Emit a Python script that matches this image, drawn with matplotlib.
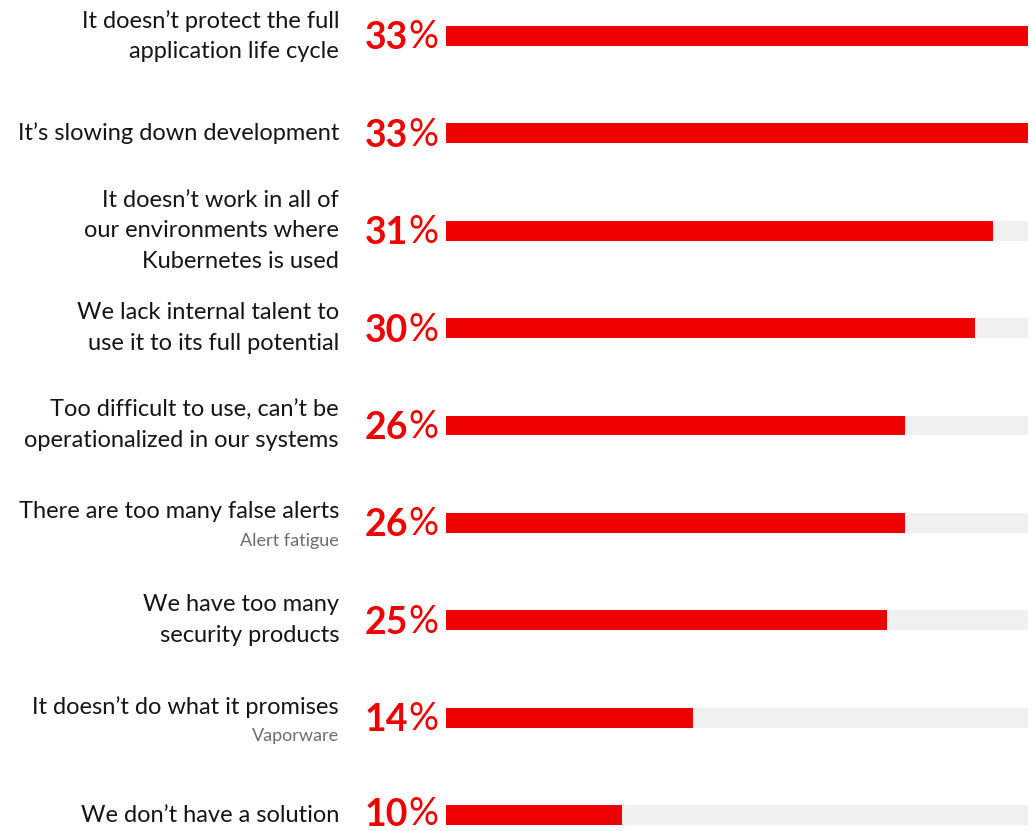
import matplotlib.pyplot as plt

labels = [
    "It doesn’t protect the full\napplication life cycle",
    "It’s slowing down development",
    "It doesn’t work in all of\nour environments where\nKubernetes is used",
    "We lack internal talent to\nuse it to its full potential",
    "Too difficult to use, can’t be\noperationalized in our systems",
    "There are too many false alerts",
    "We have too many\nsecurity products",
    "It doesn’t do what it promises",
    "We don’t have a solution",
]
notes = ["", "", "", "", "", "Alert fatigue", "", "Vaporware", ""]
values = [33, 33, 31, 30, 26, 26, 25, 14, 10]

red = "#ee0000"
plt.rcParams['font.family'] = ['Lato', 'DejaVu Sans']

fig = plt.figure(figsize=(10.34, 8.31), dpi=100)
# bars span x 446..1028 px, full height of the figure
ax = fig.add_axes([446 / 1034, 0, 582 / 1034, 1])
ax.set_xlim(0, 33)
ax.set_ylim(8 + 16 / 97.4, -36 / 97.4)
ax.axis('off')

h = 20 / 97.4
rows = range(len(values))
ax.barh(rows, [33] * len(values), height=h, color="#f0f0f0")
ax.barh(rows, values, height=h, color=red)

lab_x = (339 - 446) / 582
pct_x = (365 - 446) / 582
dy = 11 / 97.4
for i, (lab, note, v) in enumerate(zip(labels, notes, values)):
    if note:
        ax.text(lab_x, i - dy, lab, transform=ax.get_yaxis_transform(),
                ha='right', va='center', fontsize=17, color="#151515")
        ax.text(lab_x, i + 18 / 97.4, note, transform=ax.get_yaxis_transform(),
                ha='right', va='center', fontsize=13, color="#6a6e73")
    else:
        ax.text(lab_x, i, lab, transform=ax.get_yaxis_transform(),
                ha='right', va='center', fontsize=17, color="#151515",
                linespacing=1.57)
    # last row sits at the bottom edge, keep its number inside the figure
    off = 0.025 if i < len(values) - 1 else 0.0
    t = ax.text(pct_x, i + off, str(v), transform=ax.get_yaxis_transform(),
                ha='left', va='center', fontsize=27, color=red,
                fontweight='bold')
    ax.annotate("%", xy=(1, 0), xycoords=t, ha='left', va='bottom',
                fontsize=27, color=red)

fig.savefig("out.png", dpi=100, facecolor="white")
